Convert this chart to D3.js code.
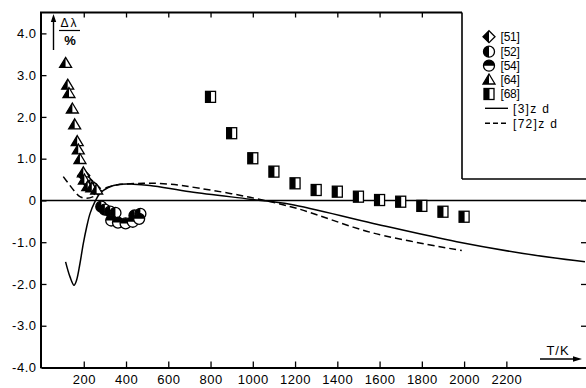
<!DOCTYPE html>
<html>
<head>
<meta charset="utf-8">
<script src="https://cdn.jsdelivr.net/npm/d3@7"></script>
<style>
  html, body { margin: 0; padding: 0; background: #fff; }
  svg { display: block; }
  text { font-family: "Liberation Sans", Arial, sans-serif; fill: #000; }
</style>
</head>
<body>
<div id="chart"></div>
<script>
// ---------- data ----------
const xTickValues = [200, 400, 600, 800, 1000, 1200, 1400, 1600, 1800, 2000, 2200];
const topTickValues = [200, 400, 600, 800, 1000, 1200, 1400, 1600, 1800];
const yTickValues = [-4, -3, -2, -1, 0, 1, 2, 3, 4];
const yTickLabels = ["-4.0", "-3.0", "-2.0", "-1.0", "0", "1.0", "2.0", "3.0", "4.0"];

const ref51T = [200, 215, 232, 250];
const ref51V = [0.60, 0.46, 0.36, 0.29];

const ref52T = [283, 300, 325, 350, 440, 468];
const ref52V = [-0.15, -0.22, -0.27, -0.30, -0.36, -0.32];

const ref54T = [330, 362, 398, 432, 462];
const ref54V = [-0.48, -0.53, -0.55, -0.51, -0.44];

const ref64T = [114, 124, 130, 146, 157, 169, 174, 182, 198, 203, 219, 238, 261];
const ref64V = [3.28, 2.76, 2.56, 2.19, 1.81, 1.41, 1.21, 0.98, 0.66, 0.49, 0.33, 0.30, 0.25];

const ref68T = [800, 900, 1000, 1100, 1200, 1300, 1400, 1500, 1600, 1700, 1800, 1900, 2000];
const ref68V = [2.48, 1.61, 1.01, 0.69, 0.41, 0.25, 0.21, 0.09, 0.01, -0.03, -0.13, -0.27, -0.39];

const zd3T = [114, 135, 154, 166, 182, 198, 214, 230, 253, 277, 316, 372, 435, 513, 703, 987, 1176, 1570, 1965, 2280, 2572];
const zd3V = [-1.47, -1.83, -2.03, -1.91, -1.51, -1.03, -0.63, -0.31, -0.03, 0.17, 0.31, 0.385, 0.39, 0.36, 0.21, 0.03, -0.09, -0.55, -0.99, -1.27, -1.47];

const zd72T = [103, 127, 158, 182, 214, 261, 300, 356, 482, 608, 750, 987, 1208, 1570, 1989];
const zd72V = [0.57, 0.41, 0.21, 0.09, 0.05, 0.13, 0.29, 0.37, 0.41, 0.39, 0.29, 0.075, -0.19, -0.78, -1.20];

const legendLabels = ["[51]", "[52]", "[54]", "[64]", "[68]", "[3]z d", "[72]z d"];

// ---------- layout ----------
const W = 586, H = 388;
const svg = d3.select("#chart").append("svg").attr("width", W).attr("height", H);

const x = d3.scaleLinear().domain([0, 2600]).range([41.5, 41.5 + 2600 * 0.2113]);
const y = d3.scaleLinear().domain([-4, 4.5]).range([367.5, 12.5]);

const axisColor = "#000";
const fontTick = 13;

// bottom axis
const gx = svg.append("g").attr("transform", `translate(0,${y(-4)})`)
  .call(d3.axisBottom(x).tickValues(xTickValues).tickSizeInner(-6).tickSizeOuter(0).tickPadding(7)
    .tickFormat(d3.format("d")));
gx.select(".domain").attr("stroke-width", 2);
gx.selectAll(".tick line").attr("stroke-width", 1.3);
gx.selectAll("text").attr("font-size", fontTick).style("letter-spacing", "0.5px");

// left axis
const gy = svg.append("g").attr("transform", `translate(40.5,0)`)
  .call(d3.axisLeft(y).tickValues(yTickValues).tickSizeInner(-6).tickSizeOuter(0).tickPadding(4)
    .tickFormat((d, i) => yTickLabels[i]));
gy.select(".domain").attr("stroke-width", 2);
gy.selectAll(".tick line").attr("stroke-width", 1.3);
gy.selectAll("text").attr("font-size", fontTick).style("letter-spacing", "0.5px");

// right axis (mostly cropped)
const gr = svg.append("g").attr("transform", `translate(588,0)`)
  .call(d3.axisRight(y).tickValues(yTickValues.filter(v => v < 1)).tickSizeInner(-7).tickSizeOuter(0).tickFormat(""));
gr.selectAll(".tick line").attr("stroke-width", 1.3);

// top frame line + ticks
svg.append("line").attr("x1", 40).attr("x2", 462).attr("y1", y(4.5)).attr("y2", y(4.5))
  .attr("stroke", axisColor).attr("stroke-width", 2);
const gt = svg.append("g").attr("transform", `translate(0,${y(4.5)})`)
  .call(d3.axisTop(x).tickValues(topTickValues).tickSizeInner(-5).tickSizeOuter(0).tickFormat(""));
gt.select(".domain").remove();
gt.selectAll(".tick line").attr("stroke-width", 1.3);

// zero line
svg.append("line").attr("x1", 40).attr("x2", W).attr("y1", y(0)).attr("y2", y(0))
  .attr("stroke", axisColor).attr("stroke-width", 1.6);

// ---------- curves ----------
const lineGen = d3.line().x(d => x(d[0])).y(d => y(d[1])).curve(d3.curveCatmullRom.alpha(0.5));
svg.append("path").attr("d", lineGen(zd3T.map((t, i) => [t, zd3V[i]])))
  .attr("fill", "none").attr("stroke", "#000").attr("stroke-width", 1.5);
svg.append("path").attr("d", lineGen(zd72T.map((t, i) => [t, zd72V[i]])))
  .attr("fill", "none").attr("stroke", "#000").attr("stroke-width", 1.5).attr("stroke-dasharray", "7,4");

// ---------- marker shapes ----------
function drawMarker(g, type) {
  const sw = 1.3;
  if (type === "diamond") {
    const r = 6;
    g.append("path").attr("d", `M0,${-r}L${r},0L0,${r}L${-r},0Z`).attr("fill", "#fff").attr("stroke", "#000").attr("stroke-width", sw);
    g.append("path").attr("d", `M0,${-r}L0,${r}L${-r},0Z`).attr("fill", "#000");
  } else if (type === "circleL") {
    const r = 5.5;
    g.append("circle").attr("r", r).attr("fill", "#fff").attr("stroke", "#000").attr("stroke-width", sw);
    g.append("path").attr("d", `M0,${-r}A${r},${r} 0 0 0 0,${r}Z`).attr("fill", "#000");
  } else if (type === "circleT") {
    const r = 5.5;
    g.append("circle").attr("r", r).attr("fill", "#fff").attr("stroke", "#000").attr("stroke-width", sw);
    g.append("path").attr("d", `M${-r},0A${r},${r} 0 0 1 ${r},0Z`).attr("fill", "#000");
  } else if (type === "tri") {
    const w = 12, h = 10;
    g.append("path").attr("d", `M0,${-h * 0.6}L${w / 2},${h * 0.4}L${-w / 2},${h * 0.4}Z`).attr("fill", "#fff").attr("stroke", "#000").attr("stroke-width", sw);
    g.append("path").attr("d", `M0,${-h * 0.6}L0,${h * 0.4}L${-w / 2},${h * 0.4}Z`).attr("fill", "#000");
  } else if (type === "square") {
    const w = 10, h = 11;
    g.append("rect").attr("x", -w / 2).attr("y", -h / 2).attr("width", w).attr("height", h).attr("fill", "#fff").attr("stroke", "#000").attr("stroke-width", sw);
    g.append("rect").attr("x", -w / 2).attr("y", -h / 2).attr("width", w / 2 + 0.5).attr("height", h).attr("fill", "#000");
  }
}

function drawSeries(Ts, Vs, type) {
  Ts.forEach((t, i) => {
    const g = svg.append("g").attr("transform", `translate(${x(t)},${y(Vs[i])})`);
    drawMarker(g, type);
  });
}

drawSeries(ref68T, ref68V, "square");
drawSeries(ref52T, ref52V, "circleL");
drawSeries(ref54T, ref54V, "circleT");
drawSeries(ref51T, ref51V, "diamond");
drawSeries(ref64T, ref64V, "tri");

// ---------- legend ----------
svg.append("line").attr("x1", 462).attr("x2", 462).attr("y1", y(4.5)).attr("y2", 179).attr("stroke", "#000").attr("stroke-width", 1.6);
svg.append("line").attr("x1", 462).attr("x2", W).attr("y1", 179).attr("y2", 179).attr("stroke", "#000").attr("stroke-width", 1.6);

const legendY = [36.7, 51.7, 65.7, 80, 94, 108.3, 123.3];
const legendTypes = ["diamond", "circleL", "circleT", "tri", "square", "solid", "dashed"];
legendTypes.forEach((type, i) => {
  const ly = legendY[i];
  if (type === "solid" || type === "dashed") {
    svg.append("line").attr("x1", 485).attr("x2", 508).attr("y1", ly).attr("y2", ly)
      .attr("stroke", "#000").attr("stroke-width", 1.4)
      .attr("stroke-dasharray", type === "dashed" ? "5,3" : null);
    svg.append("text").attr("x", 513).attr("y", ly + 4.2).attr("font-size", 12)
      .style("letter-spacing", "1.3px").text(legendLabels[i]);
  } else {
    const g = svg.append("g").attr("transform", `translate(489,${ly})`);
    drawMarker(g, type);
    svg.append("text").attr("x", 500.5).attr("y", ly + 4.2).attr("font-size", 12)
      .style("letter-spacing", "-0.2px").text(legendLabels[i]);
  }
});

// ---------- axis titles ----------
// y title with upward arrow
svg.append("line").attr("x1", 53.5).attr("x2", 53.5).attr("y1", 50).attr("y2", 20).attr("stroke", "#000").attr("stroke-width", 1.4);
svg.append("path").attr("d", "M53.5,14L50.8,22L56.2,22Z").attr("fill", "#000");
svg.append("text").attr("x", 69.5).attr("y", 27).attr("font-size", 12).attr("text-anchor", "middle")
  .style("letter-spacing", "2px").text("Δλ");
svg.append("line").attr("x1", 59).attr("x2", 80).attr("y1", 30.5).attr("y2", 30.5).attr("stroke", "#000").attr("stroke-width", 1.2);
svg.append("text").attr("x", 70).attr("y", 45).attr("font-size", 13).attr("font-weight", "bold").attr("text-anchor", "middle").text("%");

// x title with right arrow
svg.append("text").attr("x", 558).attr("y", 355).attr("font-size", 13).attr("text-anchor", "middle")
  .style("letter-spacing", "1px").text("T/K");
svg.append("line").attr("x1", 540).attr("x2", 576).attr("y1", 359).attr("y2", 359).attr("stroke", "#000").attr("stroke-width", 1.3);
svg.append("path").attr("d", "M582,359L573,356.3L573,361.7Z").attr("fill", "#000");
</script>
</body>
</html>
